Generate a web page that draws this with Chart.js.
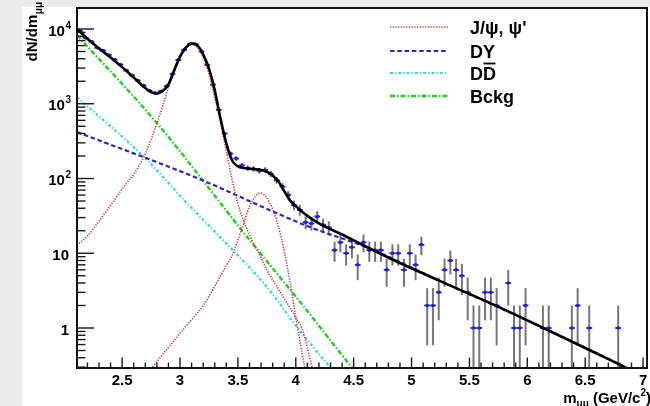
<!DOCTYPE html>
<html>
<head>
<meta charset="utf-8">
<script src="https://cdn.jsdelivr.net/npm/chart.js@4.4.1/dist/chart.umd.min.js"></script>
<style>
  html, body { margin: 0; padding: 0; background: #ececec; }
  #plot { display: block; }
</style>
</head>
<body>
<canvas id="plot" width="650" height="406"></canvas>
<script>
// dimuon mass spectrum, 0.05 GeV/c2 bins (empty bins left out)
const massX = [
  2.135, 2.185, 2.235, 2.285, 2.335, 2.385, 2.435, 2.485, 2.535, 2.585,
  2.635, 2.685, 2.735, 2.785, 2.835, 2.885, 2.935, 2.985, 3.035, 3.085,
  3.135, 3.185, 3.235, 3.285, 3.335, 3.385, 3.435, 3.485, 3.535, 3.585,
  3.635, 3.685, 3.735, 3.785, 3.835, 3.885, 3.935, 3.985, 4.035, 4.085,
  4.135, 4.185, 4.235, 4.285, 4.335, 4.385, 4.435, 4.485, 4.535, 4.585,
  4.635, 4.685, 4.735, 4.785, 4.835, 4.885, 4.935, 4.985, 5.035, 5.085,
  5.135, 5.185, 5.235, 5.285, 5.335, 5.385, 5.435, 5.485, 5.535, 5.585,
  5.635, 5.685, 5.735, 5.835, 5.885, 5.935, 5.985, 6.135, 6.185, 6.385,
  6.435, 6.535, 6.785
];
const counts = [
  9400, 7600, 6800, 5600, 5150, 4500, 3900, 3350, 2800, 2400,
  2050, 1750, 1500, 1400, 1470, 1720, 2500, 3850, 5250, 6300,
  6250, 5000, 3300, 1800, 830, 400, 215, 185, 150, 138,
  135, 127, 130, 115, 95, 78, 60, 44, 38, 26,
  25, 31, 24, 22, 11, 14, 10, 12, 7, 14,
  11, 11, 11, 6, 10, 10, 6, 10, 7, 13,
  2, 2, 3, 6, 8, 6, 5, 3, 1, 1,
  3, 3, 2, 4, 1, 1, 2, 1, 1, 1,
  2, 1, 1
];
const binHalf = 0.025;

// total fit
const fitX = [2.11, 2.2, 2.3, 2.4, 2.5, 2.6, 2.7, 2.75, 2.8, 2.85, 2.9, 2.95, 3.0, 3.05, 3.1,
  3.15, 3.2, 3.25, 3.3, 3.35, 3.4, 3.45, 3.5, 3.55, 3.6, 3.65, 3.7, 3.75, 3.8, 3.85,
  3.9, 3.95, 4.0, 4.1, 4.2, 4.4, 4.6, 4.9, 5.3, 5.7, 6.1, 6.5, 6.86, 7.05];
const fitY = [10000, 7410, 5500, 4170, 3090, 2240, 1620, 1430, 1365, 1480, 1820, 2820, 4270, 5620, 6460,
  6030, 4570, 2950, 1510, 631, 295, 174, 145, 138, 135, 133, 130, 123, 110, 91,
  68, 51, 42.7, 31.6, 25.1, 17.8, 12.4, 7.4, 3.9, 2.09, 1.07, 0.54, 0.29, 0.2];

// J/psi and psi' line shapes
const jpsiX = [2.11, 2.2, 2.3, 2.4, 2.5, 2.6, 2.65, 2.7, 2.75, 2.8, 2.85, 2.9, 2.95, 3.0, 3.05, 3.1,
  3.15, 3.2, 3.25, 3.3, 3.35, 3.4, 3.45, 3.5, 3.55, 3.6, 3.65, 3.7, 3.75, 3.8, 3.85, 3.9,
  3.95, 4.0, 4.05, 4.1, 4.15];
const jpsiY = [12.9, 17, 26.9, 43.6, 72.4, 115, 151, 214, 331, 550, 933, 1660, 2630, 4170, 5620, 6250,
  5640, 4140, 2470, 1200, 550, 229, 95.5, 45.7, 26.9, 17.8, 12.3, 8.7, 5.97, 4.46, 3.33, 2.48,
  1.85, 1.37, 1.02, 0.55, 0.26];
const psi2X = [2.75, 2.8, 2.9, 3.0, 3.1, 3.2, 3.3, 3.4, 3.45, 3.5, 3.55, 3.6, 3.65, 3.7, 3.75,
  3.8, 3.85, 3.9, 3.95, 4.0, 4.05, 4.1];
const psi2Y = [0.28, 0.355, 0.55, 0.85, 1.29, 2.0, 3.63, 6.92, 9.33, 15.1, 25.1, 41.7, 57.5, 63.8, 55,
  38.9, 22.9, 10.7, 4.17, 1.38, 0.5, 0.2];

// continuum components
const dyX = [2.11, 3.15, 4.12, 4.6, 5.3, 6.1, 6.86, 7.05];
const dyY = [419, 101, 22.4, 12.2, 3.9, 1.07, 0.29, 0.2];
const ddX = [2.11, 2.698, 3.06, 3.345, 3.75, 4.01, 4.296, 4.4];
const ddY = [1230, 188, 47, 16.5, 3.54, 1.03, 0.3, 0.2];
const bkgX = [2.11, 2.8, 3.58, 4.01, 4.49, 4.6];
const bkgY = [8300, 552, 16.5, 2.52, 0.29, 0.18];

// axes
const xMajor = [2.5, 3, 3.5, 4, 4.5, 5, 5.5, 6, 6.5, 7];
const xLabels = ['2.5', '3', '3.5', '4', '4.5', '5', '5.5', '6', '6.5', '7'];
const yMajor = [1, 10, 100, 1000, 10000];
const yBase = ['1', '10', '10', '10', '10'];
const yExp = ['', '', '2', '3', '4'];

const legendItems = [
  { text: 'J/ψ, ψ\'', color: '#d43c3c', width: 1.6, dash: [1.3, 1.4] },
  { text: 'DY', color: '#2a2ac0', width: 2.2, dash: [4.5, 2.8] },
  { text: 'DD', color: '#30d8d8', width: 2.2, dash: [3, 2, 1.3, 2], bar: true },
  { text: 'Bckg', color: '#20d020', width: 2.4, dash: [5, 2, 1.5, 2] }
];

const FONT = '"Liberation Sans", Arial, Helvetica, sans-serif';
const countErr = counts.map(Math.sqrt); // Poisson errors

function curve(label, xs, ys, color, width, dash) {
  return {
    label,
    data: xs.map((x, i) => ({ x, y: ys[i] })),
    borderColor: color,
    borderWidth: width,
    borderDash: dash,
    pointRadius: 0,
    fill: false,
    cubicInterpolationMode: 'monotone',
    clip: 0
  };
}

const rootStyle = {
  id: 'rootStyle',
  beforeDraw(chart) {
    const { ctx, width, height } = chart;
    ctx.save();
    ctx.fillStyle = '#ececec';
    ctx.fillRect(0, 0, width, height);
    ctx.fillStyle = '#ffffff';
    ctx.fillRect(22, 7, width - 22, height - 7);
    ctx.restore();
  },
  beforeDatasetsDraw(chart) {
    const { ctx, chartArea: a, scales: { x: sx, y: sy } } = chart;
    ctx.save();
    ctx.beginPath();
    ctx.rect(a.left, a.top, a.right - a.left, a.bottom - a.top);
    ctx.clip();
    // vertical error bars
    ctx.strokeStyle = '#777777';
    ctx.lineWidth = 2;
    massX.forEach((m, i) => {
      const n = counts[i], e = countErr[i];
      const x = sx.getPixelForValue(m);
      const top = sy.getPixelForValue(n + e);
      const bot = n - e > 0 ? sy.getPixelForValue(n - e) : a.bottom + 2;
      ctx.beginPath();
      ctx.moveTo(x, top);
      ctx.lineTo(x, bot);
      ctx.stroke();
    });
    // markers with bin-width bars
    ctx.strokeStyle = '#2020d8';
    ctx.fillStyle = '#2020d8';
    ctx.lineWidth = 1.8;
    massX.forEach((m, i) => {
      const x0 = sx.getPixelForValue(m - binHalf);
      const x1 = sx.getPixelForValue(m + binHalf);
      const x = sx.getPixelForValue(m);
      const y = sy.getPixelForValue(counts[i]);
      ctx.beginPath();
      ctx.moveTo(x0, y);
      ctx.lineTo(x1, y);
      ctx.stroke();
      ctx.beginPath();
      ctx.arc(x, y, 1.8, 0, Math.PI * 2);
      ctx.fill();
    });
    ctx.restore();
  },
  afterDraw(chart) {
    const { ctx, chartArea: a, scales: { x: sx, y: sy } } = chart;
    ctx.save();

    // ticks inside the frame
    ctx.strokeStyle = '#1a1a1a';
    ctx.lineWidth = 1.4;
    const tick = (x0, y0, x1, y1) => { ctx.beginPath(); ctx.moveTo(x0, y0); ctx.lineTo(x1, y1); ctx.stroke(); };
    for (let v = 2.2; v < 7.03; v += 0.1) {
      const x = sx.getPixelForValue(v);
      const major = xMajor.some(t => Math.abs(t - v) < 1e-6);
      tick(x, a.bottom, x, a.bottom - (major ? 10.5 : 5.5));
    }
    [0.1, 1, 10, 100, 1000, 10000].forEach(d => {
      for (let k = 1; k <= 9; k++) {
        const v = d * k;
        if (v < sy.min || v > sy.max) continue;
        const y = sy.getPixelForValue(v);
        tick(a.left, y, a.left + (k === 1 ? 17 : 8.5), y);
      }
    });

    // frame
    ctx.strokeStyle = '#111';
    ctx.lineWidth = 2;
    ctx.strokeRect(a.left, a.top, a.right - a.left, a.bottom - a.top);

    // tick labels
    ctx.fillStyle = '#000';
    ctx.textBaseline = 'alphabetic';
    ctx.font = 'bold 15px ' + FONT;
    ctx.textAlign = 'center';
    xMajor.forEach((v, i) => ctx.fillText(xLabels[i], sx.getPixelForValue(v), 385));
    yMajor.forEach((v, i) => {
      const y = sy.getPixelForValue(v) + 6.5;
      if (yExp[i]) {
        ctx.font = 'bold 10px ' + FONT;
        ctx.textAlign = 'right';
        ctx.fillText(yExp[i], 71, y - 7);
        const w = ctx.measureText(yExp[i]).width;
        ctx.font = 'bold 15px ' + FONT;
        ctx.fillText(yBase[i], 71 - w - 0.5, y);
      } else {
        ctx.font = 'bold 15px ' + FONT;
        ctx.textAlign = 'right';
        ctx.fillText(yBase[i], 69, y);
      }
    });

    // x axis title: m_mumu (GeV/c^2)
    const parts = [
      { t: 'm', f: 15, dy: 0 },
      { t: 'μμ', f: 10, dy: 4 },
      { t: ' (GeV/c', f: 15, dy: 0 },
      { t: '2', f: 10, dy: -7 },
      { t: ')', f: 15, dy: 0 }
    ];
    let total = 0;
    parts.forEach(p => { ctx.font = 'bold ' + p.f + 'px ' + FONT; p.w = ctx.measureText(p.t).width; total += p.w; });
    let cx = 651 - total;
    ctx.textAlign = 'left';
    parts.forEach(p => {
      ctx.font = 'bold ' + p.f + 'px ' + FONT;
      ctx.fillText(p.t, cx, 403 + p.dy);
      cx += p.w;
    });

    // y axis title: dN/dm_mumu
    ctx.save();
    ctx.translate(37, 2);
    ctx.rotate(-Math.PI / 2);
    ctx.textAlign = 'right';
    ctx.font = 'bold 10px ' + FONT;
    const subW = ctx.measureText('μμ').width;
    ctx.fillText('μμ', 0, 4.5);
    ctx.font = 'bold 15px ' + FONT;
    ctx.fillText('dN/dm', -subW - 0.5, 0);
    ctx.restore();

    // legend
    const rowsY = [27, 51, 73, 96];
    legendItems.forEach((it, i) => {
      const y = rowsY[i];
      ctx.strokeStyle = it.color;
      ctx.lineWidth = it.width;
      ctx.setLineDash(it.dash);
      ctx.beginPath();
      ctx.moveTo(390, y);
      ctx.lineTo(448, y);
      ctx.stroke();
      ctx.setLineDash([]);
      ctx.font = 'bold 18px ' + FONT;
      ctx.textAlign = 'left';
      ctx.fillStyle = '#000';
      ctx.fillText(it.text, 470, y + 6.5);
      if (it.bar) {
        // anti-D: bar over the second letter
        const w1 = ctx.measureText('D').width;
        const w2 = ctx.measureText('DD').width;
        ctx.strokeStyle = '#000';
        ctx.lineWidth = 1.8;
        ctx.beginPath();
        ctx.moveTo(470 + w1 + 0.5, y - 9.5);
        ctx.lineTo(470 + w2 - 0.5, y - 9.5);
        ctx.stroke();
      }
    });

    ctx.restore();
  }
};

new Chart(document.getElementById('plot'), {
  type: 'line',
  data: {
    datasets: [
      curve('fit', fitX, fitY, '#000000', 2.6, []),
      curve('J/psi', jpsiX, jpsiY, '#d43c3c', 1.6, [1.3, 1.4]),
      curve('psi(2S)', psi2X, psi2Y, '#d43c3c', 1.6, [1.3, 1.4]),
      curve('DY', dyX, dyY, '#2a2ac0', 2.2, [4.5, 2.8]),
      curve('DDbar', ddX, ddY, '#30d8d8', 2.2, [3, 2, 1.3, 2]),
      curve('Bckg', bkgX, bkgY, '#20d020', 2.4, [5, 2, 1.5, 2])
    ]
  },
  options: {
    responsive: false,
    animation: false,
    layout: { autoPadding: false, padding: { left: 77, top: 8, right: 3, bottom: 38 } },
    plugins: { legend: { display: false }, tooltip: { enabled: false } },
    scales: {
      x: { type: 'linear', min: 2.11, max: 7.034, display: false },
      y: { type: 'logarithmic', min: 0.2917, max: 19100, display: false }
    }
  },
  plugins: [rootStyle]
});
</script>
</body>
</html>
